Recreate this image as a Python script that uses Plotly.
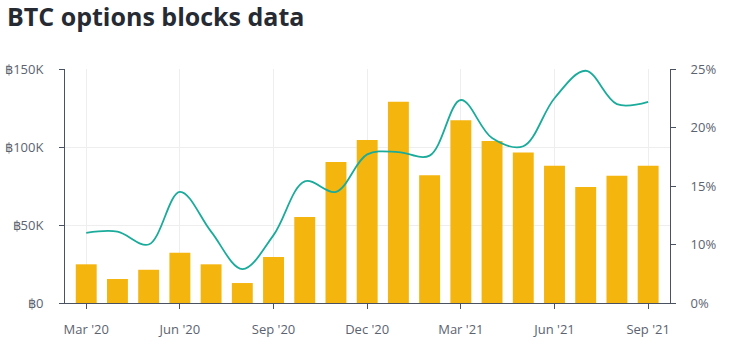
import plotly.graph_objects as go

months = ["Mar '20", "Apr '20", "May '20", "Jun '20", "Jul '20", "Aug '20", "Sep '20",
          "Oct '20", "Nov '20", "Dec '20", "Jan '21", "Feb '21", "Mar '21", "Apr '21",
          "May '21", "Jun '21", "Jul '21", "Aug '21", "Sep '21"]
block_volume = [24800, 15400, 21300, 32200, 24800, 12800, 29500, 55100, 90400, 104500,
                129000, 81900, 117100, 103800, 96400, 88000, 74400, 81600, 88000]
block_share = [11.0, 11.1, 10.0, 14.5, 11.1, 7.9, 10.8, 15.4, 14.5, 17.7,
               17.9, 17.6, 22.35, 19.1, 18.4, 22.5, 24.85, 22.0, 22.2]

x_ticks = ["Mar '20", "Jun '20", "Sep '20", "Dec '20", "Mar '21", "Jun '21", "Sep '21"]
left_ticks = [0, 50000, 100000, 150000]
left_labels = ["฿0", "฿50K", "฿100K", "฿150K"]
right_ticks = [5, 10, 15, 20, 25]
right_labels = ["0%", "10%", "15%", "20%", "25%"]

FONT = "Open Sans"
TICK_COLOR = "#5c6370"
AXIS_COLOR = "#4a5261"
GRID = "#eeeeee"

fig = go.Figure()
fig.add_trace(go.Bar(x=months, y=block_volume, marker=dict(color="#f5b50f", line=dict(width=0)),
                     yaxis="y", name="Volume"))
fig.add_trace(go.Scatter(x=months, y=block_share, mode="lines", yaxis="y2",
                         line=dict(color="#1aab9b", width=1.8, shape="spline", smoothing=1),
                         name="Share"))

fig.update_layout(
    width=731, height=350,
    margin=dict(l=65, r=61, t=69, b=47),
    paper_bgcolor="white", plot_bgcolor="white",
    showlegend=False,
    bargap=0.33,
    title=dict(text="<b>BTC options blocks data</b>", x=7/731, xanchor="left",
               y=1 - 8/350, yanchor="top", yref="container",
               font=dict(family=FONT, size=25, weight=800, color="#262b33")),
    font=dict(family=FONT, size=13, color=TICK_COLOR),
    xaxis=dict(type="category", range=[-0.68, 18.7], tickmode="array", tickvals=x_ticks,
               ticktext=x_ticks, showgrid=True, gridcolor=GRID, gridwidth=1,
               showline=True, linecolor=AXIS_COLOR, linewidth=1, automargin=False,
               ticks="outside", ticklen=5, tickcolor=AXIS_COLOR, ticklabelstandoff=9,
               tickfont=dict(family=FONT, size=13, color=TICK_COLOR), zeroline=False),
    yaxis=dict(range=[0, 150000], tickmode="array", tickvals=left_ticks, ticktext=left_labels,
               showgrid=True, gridcolor=GRID, gridwidth=1, zeroline=False, automargin=False,
               showline=True, linecolor=AXIS_COLOR, linewidth=1,
               ticks="outside", ticklen=5, tickcolor=AXIS_COLOR, ticklabelstandoff=13,
               tickfont=dict(family=FONT, size=13, color=TICK_COLOR)),
    yaxis2=dict(range=[5, 25], overlaying="y", side="right", tickmode="array",
                tickvals=right_ticks, ticktext=right_labels, showgrid=False, zeroline=False,
                showline=True, linecolor=AXIS_COLOR, linewidth=1, automargin=False,
                ticks="outside", ticklen=5, tickcolor=AXIS_COLOR, ticklabelstandoff=12,
                tickfont=dict(family=FONT, size=13, color=TICK_COLOR)),
)

fig.write_html("out.html")
